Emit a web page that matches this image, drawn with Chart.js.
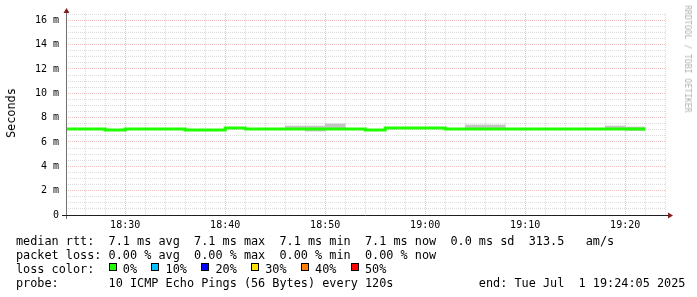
<!DOCTYPE html>
<html lang="en">
<head>
<meta charset="UTF-8">
<title>Smokeping detail</title>
<script src="https://cdn.jsdelivr.net/npm/chart.js"></script>
<style>
    body {
        margin: 0;
        background: #ffffff;
    }

    #wrap {
        position: relative;
        width: 697px;
        height: 297px;
        overflow: hidden;
        font-family: 'DejaVu Sans Mono', monospace;
        color: #000;
    }

    #chart {
        position: absolute;
        left: 0;
        top: 0;
    }

    .legend {
        position: absolute;
        left: 16px;
        top: 234px;
        font-size: 11.83px;
        line-height: 14px;
        white-space: pre;
    }

    .box {
        display: inline-block;
        box-sizing: border-box;
        width: 8px;
        height: 8px;
        border: 1px solid #000;
        vertical-align: 2px;
        margin-right: calc(2ch - 8px);
    }

    #ytitle {
        position: absolute;
        left: 10.5px;
        top: 113px;
        font-size: 11.83px;
        transform: translate(-50%, -50%) rotate(-90deg);
        white-space: nowrap;
    }

    #credit {
        position: absolute;
        left: 688px;
        top: 59px;
        font-size: 8.1px;
        color: #b0b0b0;
        transform: translate(-50%, -50%) rotate(90deg);
        white-space: nowrap;
    }
</style>
</head>
<body>

<div id="wrap">
    <canvas id="chart" width="697" height="297"></canvas>
    <div id="ytitle">Seconds</div>
    <div id="credit">RRDTOOL / TOBI OETIKER</div>
    <div class="legend" id="legend"></div>
</div>

<script>
    // 2 minute steps, start of each step
    const times = ['18:24', '18:26', '18:28', '18:30', '18:32', '18:34', '18:36', '18:38', '18:40', '18:42',
        '18:44', '18:46', '18:48', '18:50', '18:52', '18:54', '18:56', '18:58', '19:00', '19:02',
        '19:04', '19:06', '19:08', '19:10', '19:12', '19:14', '19:16', '19:18', '19:20'];

    // median rtt in ms
    const medianRtt = [7.07, 7.07, 6.99, 7.07, 7.07, 7.07, 6.99, 6.99, 7.15, 7.07,
        7.07, 7.07, 7.07, 7.07, 7.07, 6.99, 7.15, 7.15, 7.15, 7.07,
        7.07, 7.07, 7.07, 7.07, 7.07, 7.07, 7.07, 7.07, 7.07];

    // smoke (ping spread) in ms
    const smokeLow = [7.04, 7.04, 6.96, 7.04, 7.04, 7.04, 6.96, 6.96, 7.12, 7.04,
        7.04, 7.02, 6.90, 7.04, 7.04, 6.96, 7.12, 7.12, 7.12, 7.04,
        7.03, 7.03, 7.04, 7.04, 7.04, 7.04, 7.04, 7.04, 6.95];
    const smokeHigh = [7.10, 7.10, 7.02, 7.10, 7.10, 7.10, 7.02, 7.02, 7.18, 7.10,
        7.10, 7.31, 7.31, 7.48, 7.10, 7.02, 7.18, 7.18, 7.18, 7.10,
        7.40, 7.40, 7.10, 7.10, 7.10, 7.10, 7.10, 7.31, 7.23];

    const xTickLabels = ['18:30', '18:40', '18:50', '19:00', '19:10', '19:20'];
    const yTickValues = [0, 2, 4, 6, 8, 10, 12, 14, 16];
    const yTickLabels = ['0', '2 m', '4 m', '6 m', '8 m', '10 m', '12 m', '14 m', '16 m'];

    const lossLabels = ['0%', '10%', '20%', '30%', '40%', '50%'];
    const lossColors = ['#20ff00', '#00c0ff', '#0000ff', '#ffe000', '#ff8000', '#ff0000'];

    const viewStart = '18:24:05';
    const viewEnd = '19:24:05';
    const stepMin = 2;
    const yMax = 16.6;

    const legendLines = [
        'median rtt:  7.1 ms avg  7.1 ms max  7.1 ms min  7.1 ms now  0.0 ms sd  313.5   am/s',
        'packet loss: 0.00 % avg  0.00 % max  0.00 % min  0.00 % now',
        null,
        'probe:       10 ICMP Echo Pings (56 Bytes) every 120s            end: Tue Jul  1 19:24:05 2025'
    ];

    function toMin(s) {
        const p = s.split(':').map(Number);
        return p[0] * 60 + p[1] + (p[2] || 0) / 60;
    }

    function fmt(m) {
        const h = Math.floor(m / 60), mm = Math.round(m % 60);
        return h + ':' + String(mm).padStart(2, '0');
    }

    // legend text
    const legend = document.getElementById('legend');
    let html = '';
    legendLines.forEach(line => {
        if (line === null) {
            html += 'loss color:  ' + lossLabels.map((l, i) =>
                '<span class="box" style="background:' + lossColors[i] + '"></span>' + l).join('  ');
        } else {
            html += line;
        }
        html += '\n';
    });
    legend.innerHTML = html;

    const xs = times.map(toMin);
    const linePts = xs.map((x, i) => ({x: x, y: medianRtt[i]}));
    linePts.push({x: xs[xs.length - 1] + stepMin, y: medianRtt[medianRtt.length - 1]});
    const smokePts = xs.map((x, i) => ({x: x + stepMin / 2, y: [smokeLow[i], smokeHigh[i]]}));

    const xMin = toMin(viewStart), xMax = toMin(viewEnd);

    const axisArrows = {
        id: 'axisArrows',
        afterDraw(chart) {
            const {ctx, chartArea: a} = chart;
            const yb = a.bottom + 0.5, xl = a.left + 0.5;
            ctx.save();
            ctx.lineWidth = 1;
            ctx.strokeStyle = '#707070';
            ctx.beginPath();
            ctx.moveTo(xl, a.bottom + 4);
            ctx.lineTo(xl, a.top - 3);
            ctx.stroke();
            ctx.strokeStyle = '#1f1f1f';
            ctx.beginPath();
            ctx.moveTo(a.left - 4, yb);
            ctx.lineTo(a.right + 3, yb);
            ctx.stroke();
            ctx.fillStyle = '#801f1f';
            ctx.beginPath();
            ctx.moveTo(a.right + 2, yb - 3);
            ctx.lineTo(a.right + 7, yb);
            ctx.lineTo(a.right + 2, yb + 3);
            ctx.fill();
            ctx.beginPath();
            ctx.moveTo(xl - 3, a.top);
            ctx.lineTo(xl, a.top - 5);
            ctx.lineTo(xl + 3, a.top);
            ctx.fill();
            ctx.restore();
        }
    };

    Chart.defaults.font.family = "'DejaVu Sans Mono', monospace";
    Chart.defaults.font.size = 10;
    Chart.defaults.color = '#000';

    const majorGrid = '#ecbcbc';
    const minorGrid = '#dcdcdc';

    new Chart(document.getElementById('chart').getContext('2d'), {
        type: 'line',
        data: {
            datasets: [{
                type: 'line',
                data: linePts,
                borderColor: lossColors[0],
                borderWidth: 3,
                stepped: true,
                pointRadius: 0,
                fill: false,
                order: 0
            }, {
                type: 'bar',
                data: smokePts,
                backgroundColor: '#c4c4c4',
                borderWidth: 0,
                barPercentage: 1,
                categoryPercentage: 1,
                grouped: false,
                order: 1
            }]
        },
        options: {
            responsive: false,
            animation: false,
            layout: {padding: {left: 26, right: 31, top: 13, bottom: 62}},
            plugins: {legend: {display: false}, tooltip: {enabled: false}},
            scales: {
                x: {
                    type: 'linear',
                    min: xMin,
                    max: xMax,
                    offset: false,
                    afterBuildTicks: (s) => {
                        const t = [];
                        for (let v = Math.ceil(xMin / stepMin) * stepMin; v <= xMax; v += stepMin) t.push({value: v});
                        s.ticks = t;
                    },
                    afterFit: (s) => { s.height = 20; },
                    ticks: {
                        autoSkip: false,
                        maxRotation: 0,
                        padding: 4,
                        callback: (v) => xTickLabels.includes(fmt(v)) ? fmt(v) : ''
                    },
                    grid: {
                        offset: false,
                        drawTicks: false,
                        color: (c) => c.tick && xTickLabels.includes(fmt(c.tick.value)) ? majorGrid : minorGrid
                    },
                    border: {display: false, dash: [1, 1]}
                },
                y: {
                    min: 0,
                    max: yMax,
                    afterBuildTicks: (s) => {
                        const t = [];
                        for (let v = 0; v <= yMax; v += 0.5) t.push({value: v});
                        s.ticks = t;
                    },
                    afterFit: (s) => { s.width = 40; },
                    ticks: {
                        autoSkip: false,
                        padding: 7,
                        callback: (v) => {
                            const i = yTickValues.indexOf(v);
                            return i >= 0 ? yTickLabels[i] : '';
                        }
                    },
                    grid: {
                        drawTicks: false,
                        color: (c) => c.tick && yTickValues.includes(c.tick.value) ? majorGrid : minorGrid
                    },
                    border: {display: false, dash: [1, 1]}
                }
            }
        },
        plugins: [axisArrows]
    });
</script>

</body>
</html>
